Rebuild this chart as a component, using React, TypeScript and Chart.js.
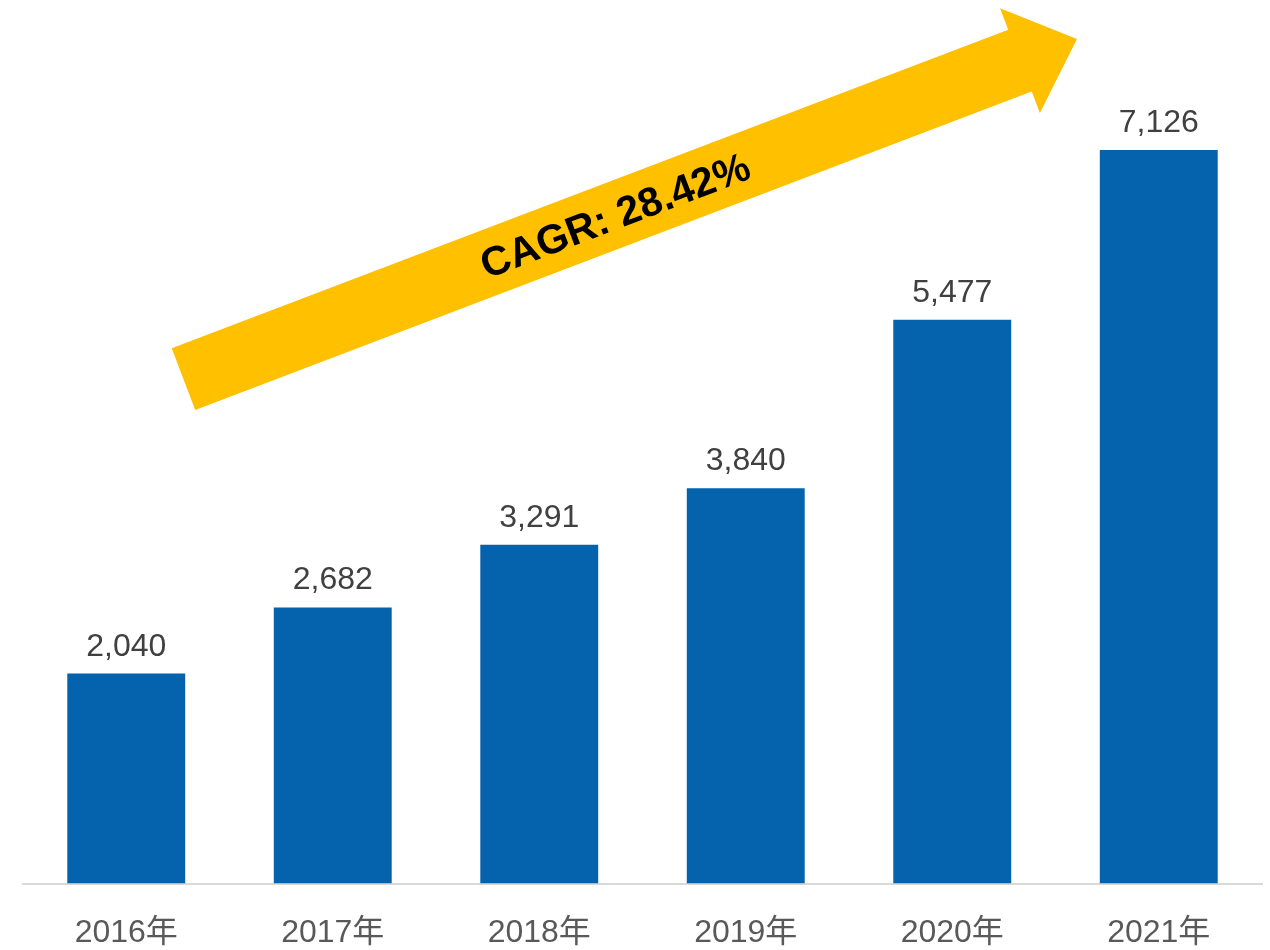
import React, { useEffect, useRef } from "react";
import { Chart, registerables } from "chart.js";

Chart.register(...registerables);

const categories = ["2016年", "2017年", "2018年", "2019年", "2020年", "2021年"];
const values = [2040, 2682, 3291, 3840, 5477, 7126];
const cagrLabel = "CAGR: 28.42%";
// arrow anchors in data space: [category index, value]
const arrowTail = [0.277, 4900];
const arrowTip = [4.604, 8205];

const FONT = "Arial, 'Liberation Sans', 'Noto Sans CJK SC', sans-serif";
const BAR_COLOR = "#0563AD";
const ARROW_COLOR = "#FFC000";

const valueLabelPlugin = {
  id: "valueLabels",
  afterDatasetsDraw(chart: any) {
    const ctx = chart.ctx;
    const meta = chart.getDatasetMeta(0);
    ctx.save();
    ctx.font = `32px ${FONT}`;
    ctx.fillStyle = "#404040";
    ctx.textAlign = "center";
    ctx.textBaseline = "alphabetic";
    meta.data.forEach((bar: any, i: number) => {
      ctx.fillText(values[i].toLocaleString("en-US"), bar.x, bar.y - 18);
    });
    ctx.restore();
  },
};

const arrowPlugin = {
  id: "cagrArrow",
  afterDatasetsDraw(chart: any) {
    const ctx = chart.ctx;
    const xs = chart.scales.x;
    const ys = chart.scales.y;
    const x0 = xs.getPixelForValue(arrowTail[0]);
    const y0 = ys.getPixelForValue(arrowTail[1]);
    const x1 = xs.getPixelForValue(arrowTip[0]);
    const y1 = ys.getPixelForValue(arrowTip[1]);
    const dx = x1 - x0;
    const dy = y1 - y0;
    const len = Math.sqrt(dx * dx + dy * dy);
    const ang = Math.atan2(dy, dx);
    const shaftHalf = 33;
    const headLen = 61;
    const headHalf = 56;
    ctx.save();
    ctx.translate(x0, y0);
    ctx.rotate(ang);
    ctx.beginPath();
    ctx.moveTo(0, -shaftHalf);
    ctx.lineTo(len - headLen, -shaftHalf);
    ctx.lineTo(len - headLen, -headHalf);
    ctx.lineTo(len, 0);
    ctx.lineTo(len - headLen, headHalf);
    ctx.lineTo(len - headLen, shaftHalf);
    ctx.lineTo(0, shaftHalf);
    ctx.closePath();
    ctx.fillStyle = ARROW_COLOR;
    ctx.fill();
    ctx.font = `bold 41px ${FONT}`;
    ctx.fillStyle = "#000000";
    ctx.textAlign = "center";
    ctx.textBaseline = "middle";
    ctx.fillText(cagrLabel, (len - headLen) * 0.5 + 14, 3);
    ctx.restore();
  },
};

export default function App() {
  const ref = useRef<HTMLCanvasElement>(null);
  useEffect(() => {
    if (!ref.current) return;
    const chart = new Chart(ref.current, {
      type: "bar",
      data: {
        labels: categories,
        datasets: [
          {
            data: values,
            backgroundColor: BAR_COLOR,
            barPercentage: 0.571,
            categoryPercentage: 1,
          },
        ],
      },
      options: {
        animation: false,
        responsive: false,
        maintainAspectRatio: false,
        layout: { padding: { left: 23, right: 8, top: 60, bottom: -32 } },
        plugins: { legend: { display: false }, tooltip: { enabled: false } },
        scales: {
          x: {
            grid: { display: false, drawTicks: false },
            border: { display: true, color: "#D9D9D9", width: 2 },
            ticks: { color: "#595959", font: { size: 32, family: FONT }, padding: 30 },
          },
          y: {
            display: false,
            min: 0,
            max: 8000,
          },
        },
      },
      plugins: [arrowPlugin, valueLabelPlugin],
    });
    return () => chart.destroy();
  }, []);
  return (
    <div style={{ position: "absolute", left: 0, top: 0, width: 1270, height: 950, background: "#fff" }}>
      <canvas ref={ref} width={1270} height={950} style={{ width: 1270, height: 950 }} />
    </div>
  );
}
